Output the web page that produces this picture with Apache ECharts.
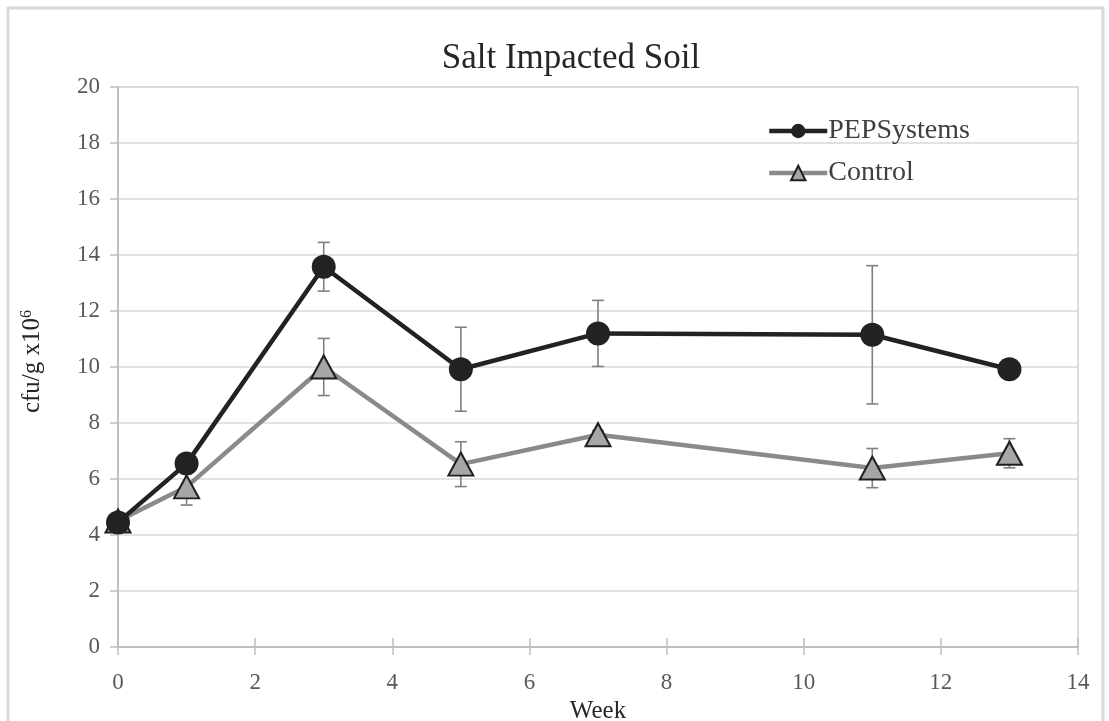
<!DOCTYPE html>
<html><head><meta charset="utf-8">
<script src="https://cdn.jsdelivr.net/npm/echarts@6/dist/echarts.min.js"></script>
<style>html,body{margin:0;padding:0;background:#fff}#c{width:1109px;height:721px}</style>
</head><body><div id="c"></div>
<script>
const weeks = [0, 1, 3, 5, 7, 11, 13];
const pepMean = [4.45, 6.55, 13.58, 9.92, 11.2, 11.15, 9.92];
const pepErr = [0.15, 0.2, 0.87, 1.5, 1.18, 2.47, 0.2];
const ctrlMean = [4.5, 5.72, 10.0, 6.53, 7.58, 6.39, 6.92];
const ctrlErr = [0.15, 0.65, 1.02, 0.8, 0.15, 0.7, 0.52];
const xTicks = [0, 2, 4, 6, 8, 10, 12, 14];
const yTicks = [0, 2, 4, 6, 8, 10, 12, 14, 16, 18, 20];

const FONT = '"Liberation Serif", "DejaVu Serif", serif';
const chart = echarts.init(document.getElementById('c'), null, {renderer: 'canvas'});

function errData(means, errs) {
  return weeks.map((w, i) => [w, means[i] - errs[i], means[i] + errs[i]]);
}
function errRender(params, api) {
  const x = api.value(0);
  const lo = api.coord([x, api.value(1)]);
  const hi = api.coord([x, api.value(2)]);
  const cap = 6;
  const style = {stroke: '#808080', lineWidth: 1.6};
  return {
    type: 'group',
    children: [
      {type: 'line', shape: {x1: lo[0], y1: lo[1], x2: hi[0], y2: hi[1]}, style},
      {type: 'line', shape: {x1: lo[0] - cap, y1: lo[1], x2: lo[0] + cap, y2: lo[1]}, style},
      {type: 'line', shape: {x1: hi[0] - cap, y1: hi[1], x2: hi[0] + cap, y2: hi[1]}, style}
    ]
  };
}

const option = {
  animation: false,
  backgroundColor: '#fff',
  title: {
    text: 'Salt Impacted Soil',
    left: 566, top: 36, textAlign: 'center',
    textStyle: {fontFamily: FONT, fontSize: 35, fontWeight: 'normal', color: '#262626'}
  },
  graphic: [{
    type: 'rect', z: 100, silent: true,
    shape: {x: 8, y: 8, width: 1095, height: 730},
    style: {fill: 'none', stroke: '#d9d9d9', lineWidth: 3}
  }, {
    type: 'text', left: 19, top: 310, rotation: Math.PI / 2,
    style: {
      text: '{b|cfu/g x10}{s|6}',
      rich: {
        b: {fontFamily: FONT, fontSize: 25, fill: '#262626', verticalAlign: 'bottom'},
        s: {fontFamily: FONT, fontSize: 16, fill: '#262626', verticalAlign: 'top', padding: [0, 0, 10, 0]}
      }
    }
  }],
  legend: {
    orient: 'vertical',
    left: 762, top: 112,
    itemWidth: 58, itemHeight: 18, itemGap: 14,
    textStyle: {fontFamily: FONT, fontSize: 28, color: '#404040', lineHeight: 28, padding: [0, 0, 0, -4]},
    data: [
      {name: 'PEPSystems', lineStyle: {width: 4.5, color: '#222222'}},
      {name: 'Control', lineStyle: {width: 4.5, color: '#8a8a8a'}}
    ]
  },
  grid: {left: 118, right: 31, top: 87, bottom: 74, show: true, borderColor: '#d0d0d0', borderWidth: 1.5,
    containLabel: false, outerBoundsMode: 'none'},
  xAxis: [{
    type: 'value', min: 0, max: 14, interval: 2,
    name: 'Week', nameLocation: 'middle', nameGap: 50,
    nameTextStyle: {fontFamily: FONT, fontSize: 25, color: '#262626'},
    axisLine: {show: true, lineStyle: {color: '#bfbfbf', width: 2}},
    axisTick: {show: true, length: 8, lineStyle: {color: '#bfbfbf', width: 1.5}},
    axisLabel: {fontFamily: FONT, fontSize: 23, color: '#595959', margin: 24,
      formatter: v => xTicks.includes(v) ? String(v) : ''},
    splitLine: {show: false}
  }, {
    type: 'value', min: 0, max: 14, interval: 2, position: 'bottom',
    axisLine: {show: false},
    axisTick: {show: true, inside: true, length: 9, lineStyle: {color: '#bfbfbf', width: 1.5}},
    axisLabel: {show: false}, splitLine: {show: false}
  }],
  yAxis: {
    type: 'value', min: 0, max: 20, interval: 2,
    axisLine: {show: true, lineStyle: {color: '#bfbfbf', width: 2}},
    axisTick: {show: true, length: 8, lineStyle: {color: '#bfbfbf', width: 1.5}},
    axisLabel: {fontFamily: FONT, fontSize: 23, color: '#595959', margin: 18,
      formatter: v => yTicks.includes(v) ? String(v) : ''},
    splitLine: {show: true, lineStyle: {color: '#d9d9d9', width: 1.5}}
  },
  series: [
    {type: 'custom', name: 'pepErr', renderItem: errRender, data: errData(pepMean, pepErr), z: 1, silent: true},
    {type: 'custom', name: 'ctrlErr', renderItem: errRender, data: errData(ctrlMean, ctrlErr), z: 1, silent: true},
    {
      type: 'line', name: 'Control', z: 3,
      data: weeks.map((w, i) => [w, ctrlMean[i]]),
      symbol: 'triangle', symbolSize: [25, 23],
      lineStyle: {color: '#8a8a8a', width: 4.5},
      itemStyle: {color: '#a6a6a6', borderColor: '#1f1f1f', borderWidth: 2},
      emphasis: {disabled: true}
    },
    {
      type: 'line', name: 'PEPSystems', z: 4,
      data: weeks.map((w, i) => [w, pepMean[i]]),
      symbol: 'circle', symbolSize: 24,
      lineStyle: {color: '#222222', width: 4.5},
      itemStyle: {color: '#222222', borderColor: '#222222', borderWidth: 0},
      emphasis: {disabled: true}
    }
  ]
};
chart.setOption(option);
</script>
</body></html>
